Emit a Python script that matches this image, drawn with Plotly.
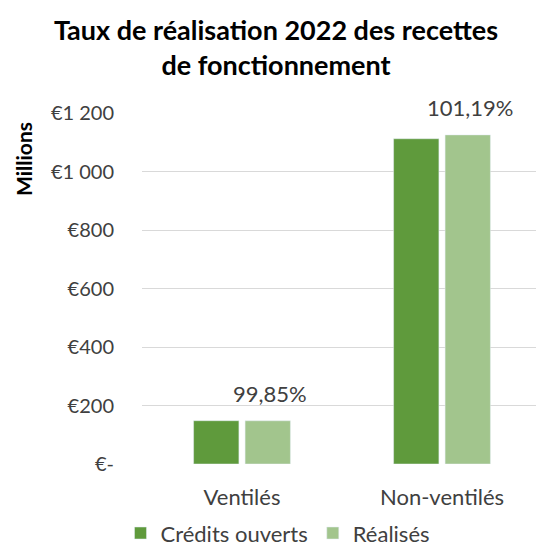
import plotly.graph_objects as go

categories = ["Ventilés", "Non-ventilés"]
credits_ouverts = [148, 1112]
realises = [147.8, 1125.2]
taux_labels = ["99,85%", "101,19%"]
tick_vals = [0, 200, 400, 600, 800, 1000, 1200]
tick_text = ["€-", "€200", "€400", "€600", "€800", "€1 000", "€1 200"]

FONT = "Lato"
dark = "#5f9a3c"
light = "#a2c58d"
txt = "#404040"

fig = go.Figure()
fig.add_trace(go.Bar(name="Crédits ouverts", x=categories, y=credits_ouverts,
                     marker=dict(color=dark)))
fig.add_trace(go.Bar(name="Réalisés", x=categories, y=realises,
                     marker=dict(color=light)))

for c, v, t in zip(categories, realises, taux_labels):
    fig.add_annotation(x=c, y=v, text=t, showarrow=False, xshift=28, yshift=12,
                       yanchor="bottom", font=dict(family=FONT, size=22, color=txt))

fig.add_annotation(xref="paper", yref="paper", x=-0.295, y=0.869, text="<b>Millions</b>",
                   textangle=-90, showarrow=False, xanchor="center", yanchor="middle",
                   font=dict(family=FONT, size=21, color="#000000"))

# page body has an 8px default margin, so the figure is 8px smaller than the window
fig.update_layout(
    width=536, height=547,
    paper_bgcolor="white", plot_bgcolor="white",
    margin=dict(l=134, r=2, t=105, b=91, autoexpand=False),
    title=dict(text="<b>Taux de réalisation 2022 des recettes<br>de fonctionnement</b>",
               x=0.5, xanchor="center", y=0.942, yanchor="middle",
               yref="container",
               font=dict(family=FONT, size=27, color="#000000")),
    barmode="group", bargap=0.485, bargroupgap=0.12,
    showlegend=True,
    legend=dict(orientation="h", x=0.34, xanchor="center", y=-0.257, yanchor="bottom",
                font=dict(family=FONT, size=22, color=txt), traceorder="normal"),
    font=dict(family=FONT),
)
fig.update_xaxes(showgrid=False, showline=False, ticks="", ticklabelstandoff=18,
                 tickfont=dict(family=FONT, size=22, color=txt))
fig.update_yaxes(range=[0, 1200], tickvals=tick_vals, ticktext=tick_text,
                 showgrid=True, gridcolor="#d9d9d9", gridwidth=1, zeroline=False,
                 showline=False, ticks="", ticklabelstandoff=27,
                 tickfont=dict(family=FONT, size=20, color=txt))

fig.write_html("out.html")
